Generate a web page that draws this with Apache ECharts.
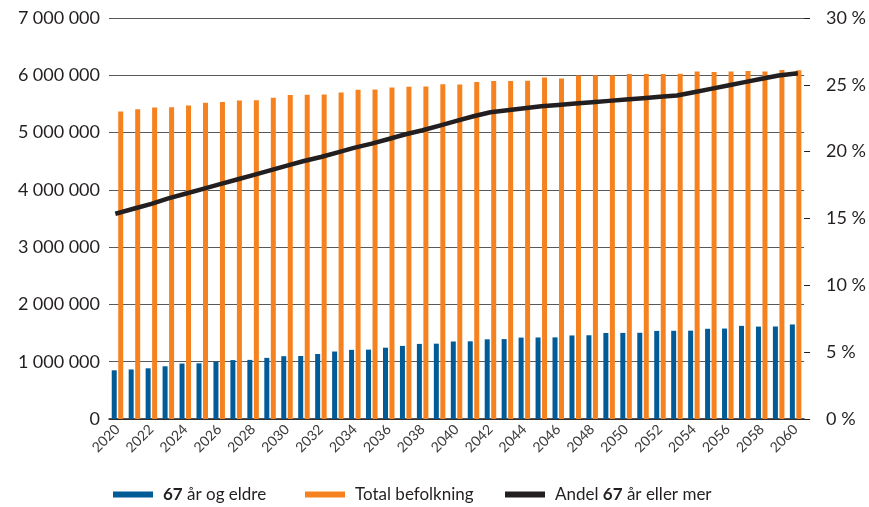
<!DOCTYPE html>
<html>
<head>
<meta charset="utf-8">
<script src="https://cdn.jsdelivr.net/npm/echarts@6/dist/echarts.min.js"></script>
<style>
  html, body { margin: 0; padding: 0; background: #ffffff; }
  #chart { width: 869px; height: 507px; }
</style>
</head>
<body>
<div id="chart"></div>
<script>
// Befolkningsframskriving 2020–2060
const years = [
  '2020','2021','2022','2023','2024','2025','2026','2027','2028','2029',
  '2030','2031','2032','2033','2034','2035','2036','2037','2038','2039',
  '2040','2041','2042','2043','2044','2045','2046','2047','2048','2049',
  '2050','2051','2052','2053','2054','2055','2056','2057','2058','2059','2060'
];

// Personer 67 år og eldre
const elderly = [
  850000, 865000, 885000, 920000, 968000, 972000, 1000000, 1028000, 1032000, 1067000,
  1096000, 1100000, 1135000, 1178000, 1207000, 1211000, 1245000, 1276000, 1311000, 1315000,
  1353000, 1356000, 1391000, 1395000, 1421000, 1423000, 1425000, 1458000, 1462000, 1501000,
  1503000, 1505000, 1538000, 1540000, 1542000, 1575000, 1579000, 1626000, 1613000, 1615000, 1650000
];

// Total befolkning
const total = [
  5370000, 5405000, 5437000, 5441000, 5474000, 5520000, 5532000, 5559000, 5563000, 5607000,
  5657000, 5661000, 5665000, 5699000, 5749000, 5753000, 5786000, 5798000, 5803000, 5844000,
  5838000, 5884000, 5900000, 5902000, 5904000, 5960000, 5942000, 5998000, 6000000, 6002000,
  6021000, 6023000, 6024000, 6025000, 6064000, 6058000, 6064000, 6075000, 6064000, 6092000, 6087000
];

// Andel 67 år eller mer (prosent)
const share = [
  15.4, 15.75, 16.1, 16.5, 16.85, 17.2, 17.55, 17.9, 18.25, 18.6,
  18.95, 19.3, 19.6, 19.95, 20.3, 20.6, 20.95, 21.3, 21.6, 21.95,
  22.3, 22.65, 22.95, 23.1, 23.25, 23.4, 23.5, 23.6, 23.7, 23.8,
  23.9, 24.0, 24.1, 24.2, 24.45, 24.7, 24.95, 25.2, 25.45, 25.7, 25.85
];

const seriesNames = ['67 år og eldre', 'Total befolkning', 'Andel 67 år eller mer'];
const colors = ['#005b96', '#f5821f', '#231f20'];

const FONT = 'Lato, "Open Sans", sans-serif';
const TEXT = '#231f20';

// thousands separated by a narrow fixed space
function grouped(v) {
  return String(v).replace(/\B(?=(\d{3})+(?!\d))/g, '\u2005');
}

function legendAt(name, left) {
  return {
    data: [name],
    left: left,
    top: 486,
    padding: 0,
    itemWidth: 40,
    itemHeight: 6,
    icon: 'rect',
    selectedMode: false,
    formatter: function (n) {
      return n.replace('67', '{b|67}');
    },
    textStyle: {
      fontFamily: FONT,
      fontSize: 17,
      color: TEXT,
      padding: [0, 0, 0, 5],
      rich: {
        b: { fontFamily: FONT, fontSize: 17, fontWeight: 'bold', color: TEXT }
      }
    }
  };
}

const chart = echarts.init(document.getElementById('chart'), null, { renderer: 'canvas' });

chart.setOption({
  animation: false,
  backgroundColor: '#ffffff',
  grid: { left: 109, right: 61, top: 18, bottom: 88, containLabel: false },
  legend: [
    legendAt(seriesNames[0], 113),
    legendAt(seriesNames[1], 305),
    legendAt(seriesNames[2], 505)
  ],
  xAxis: {
    type: 'category',
    data: years,
    boundaryGap: true,
    axisLine: { show: true, lineStyle: { color: TEXT, width: 1.5 } },
    axisTick: { show: false },
    axisLabel: {
      interval: 1,
      rotate: 45,
      margin: 8,
      fontFamily: FONT,
      fontSize: 14,
      color: '#3a3a3a'
    }
  },
  yAxis: [
    {
      type: 'value',
      min: 0,
      max: 7000000,
      interval: 1000000,
      axisLine: { show: false },
      axisTick: { show: false },
      splitLine: { show: true, lineStyle: { color: '#58595b', width: 1.2 } },
      axisLabel: {
        margin: 9,
        fontFamily: FONT,
        fontSize: 18,
        color: TEXT,
        formatter: grouped
      }
    },
    {
      type: 'value',
      position: 'right',
      min: 0,
      max: 30,
      interval: 5,
      axisLine: { show: false },
      axisTick: { show: true, inside: false, length: 6, lineStyle: { color: TEXT, width: 1 } },
      splitLine: { show: false },
      axisLabel: {
        margin: 22,
        fontFamily: FONT,
        fontSize: 18,
        color: TEXT,
        formatter: function (v) { return v + ' %'; }
      }
    }
  ],
  series: [
    {
      name: seriesNames[0],
      type: 'bar',
      data: elderly,
      barWidth: 5,
      barGap: '30%',
      itemStyle: { color: colors[0] }
    },
    {
      name: seriesNames[1],
      type: 'bar',
      data: total,
      barWidth: 5,
      barGap: '30%',
      itemStyle: { color: colors[1] }
    },
    {
      name: seriesNames[2],
      type: 'line',
      yAxisIndex: 1,
      data: share,
      symbol: 'none',
      z: 5,
      lineStyle: { color: colors[2], width: 4.5, cap: 'square' },
      itemStyle: { color: colors[2] }
    }
  ]
});
</script>
</body>
</html>
